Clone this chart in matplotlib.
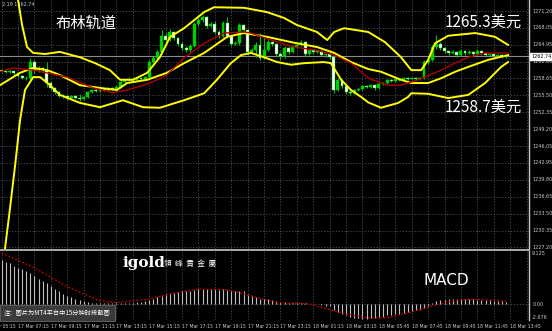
import matplotlib
matplotlib.use("Agg")
import matplotlib.pyplot as plt
import matplotlib.transforms as mtransforms

plt.rcParams['font.family'] = ['Noto Sans CJK SC', 'DejaVu Sans']

# 15 minute candles, bar 0 = 17 Mar 06:15
first_open = 1260.22
closes = [1260.04, 1259.85, 1260.04, 1259.67, 1259.11, 1258.73, 1258.73, 1261.71, 1260.22, 1260.59,
          1260.22, 1257.80, 1256.87, 1256.13, 1255.39, 1255.39, 1255.02, 1255.39, 1255.02, 1254.83,
          1255.20, 1256.13, 1256.50, 1256.32, 1256.69, 1256.50, 1256.87, 1256.69, 1257.06, 1257.99,
          1258.36, 1258.55, 1258.36, 1258.73, 1258.55, 1258.92, 1261.71, 1262.46, 1263.57, 1266.55,
          1265.81, 1267.29, 1266.18, 1265.06, 1264.32, 1263.94, 1264.69, 1268.78, 1269.53, 1270.08,
          1268.41, 1268.78, 1267.29, 1266.55, 1268.97, 1266.55, 1265.06, 1265.25, 1268.60, 1267.67,
          1263.57, 1263.94, 1264.87, 1262.46, 1263.94, 1265.43, 1265.06, 1263.20, 1262.83, 1264.32,
          1263.57, 1264.50, 1264.87, 1265.43, 1263.20, 1263.94, 1263.57, 1263.76, 1263.01, 1263.20,
          1262.64, 1256.50, 1258.36, 1257.25, 1256.13, 1255.95, 1256.50, 1256.69, 1257.25, 1257.06,
          1257.43, 1256.87, 1257.62, 1257.80, 1258.36, 1258.18, 1258.55, 1258.36, 1258.73, 1258.55,
          1258.73, 1258.55, 1258.73, 1261.71, 1262.08, 1264.50, 1265.06, 1264.32, 1263.76, 1263.39,
          1263.57, 1263.01, 1263.76, 1263.39, 1263.57, 1263.20, 1263.76, 1263.39, 1263.01, 1263.20,
          1262.83, 1263.01, 1262.64, 1262.74]
highs = [1260.40, 1260.22, 1260.30, 1260.22, 1259.85, 1259.30, 1259.11, 1262.46, 1262.08, 1260.96,
         1260.78, 1261.71, 1258.18, 1257.06, 1256.32, 1255.76, 1255.57, 1255.57, 1255.57, 1255.76,
         1255.39, 1256.32, 1256.69, 1256.87, 1256.87, 1256.87, 1257.06, 1257.06, 1257.43, 1258.36,
         1258.55, 1258.92, 1258.73, 1258.92, 1258.92, 1259.11, 1262.08, 1262.83, 1263.94, 1267.67,
         1267.10, 1267.85, 1267.48, 1266.36, 1265.43, 1264.69, 1265.06, 1269.15, 1269.90, 1270.46,
         1270.27, 1269.15, 1269.34, 1267.67, 1269.34, 1270.08, 1266.74, 1265.62, 1268.97, 1268.78,
         1267.85, 1264.32, 1265.43, 1267.10, 1266.36, 1265.81, 1265.62, 1265.25, 1263.57, 1264.69,
         1264.50, 1264.87, 1265.25, 1265.81, 1265.62, 1264.13, 1264.13, 1263.94, 1263.94, 1263.39,
         1263.39, 1262.83, 1258.73, 1258.55, 1257.43, 1256.50, 1256.69, 1256.87, 1257.43, 1257.43,
         1257.62, 1257.62, 1257.99, 1257.99, 1258.55, 1258.55, 1258.73, 1258.73, 1258.92, 1258.92,
         1258.92, 1258.92, 1258.92, 1262.08, 1262.46, 1264.87, 1266.74, 1265.43, 1264.50, 1263.94,
         1263.94, 1263.76, 1264.13, 1263.94, 1263.94, 1263.76, 1264.13, 1263.94, 1263.57, 1263.39,
         1263.39, 1263.20, 1263.20, 1262.92]
lows = [1259.85, 1259.67, 1259.67, 1259.30, 1258.92, 1258.55, 1258.36, 1258.36, 1259.67, 1259.85,
        1259.85, 1257.06, 1256.50, 1255.76, 1255.20, 1255.02, 1254.64, 1254.83, 1254.83, 1254.46,
        1254.64, 1255.02, 1255.95, 1256.13, 1256.13, 1256.32, 1256.32, 1256.50, 1256.50, 1256.87,
        1257.80, 1258.18, 1257.99, 1258.18, 1258.36, 1258.36, 1258.73, 1261.52, 1262.27, 1263.39,
        1265.25, 1265.62, 1265.81, 1264.69, 1263.94, 1263.57, 1263.57, 1264.50, 1268.41, 1269.15,
        1268.04, 1268.22, 1266.92, 1266.18, 1266.36, 1266.18, 1264.69, 1264.87, 1264.87, 1267.29,
        1263.01, 1263.20, 1262.64, 1262.08, 1262.27, 1263.76, 1264.69, 1262.83, 1262.08, 1262.46,
        1263.20, 1263.39, 1264.32, 1264.69, 1262.83, 1263.01, 1263.20, 1263.39, 1262.83, 1262.64,
        1262.27, 1255.95, 1256.32, 1256.87, 1255.76, 1255.57, 1255.76, 1256.32, 1256.50, 1256.87,
        1256.87, 1256.50, 1256.69, 1257.43, 1257.62, 1257.99, 1257.99, 1258.18, 1258.18, 1258.36,
        1258.36, 1258.36, 1258.36, 1258.55, 1261.34, 1261.90, 1264.13, 1263.94, 1263.39, 1263.01,
        1263.20, 1262.64, 1262.83, 1263.01, 1263.20, 1262.83, 1263.01, 1263.01, 1262.83, 1262.83,
        1262.64, 1262.64, 1262.46, 1262.46]

# bands as (bar, price)
upper_bar = [2.0, 4.0, 5.0, 6.2, 7.7, 10.6, 14.2, 19.1, 22.8, 26.4, 28.9, 32.0, 35.5, 38.6, 41.1, 44.5,
             49.4, 51.8, 59.1, 64.7, 68.9, 72.0, 76.9, 79.4, 81.1, 83.5, 89.4, 93.5, 97.4, 99.9,
             102.3, 104.0, 105.7, 108.9, 115.5, 120.3, 123.5]
upper_val = [1281.6, 1273.3, 1268.6, 1264.5, 1263.4, 1263.2, 1263.6, 1262.6, 1261.5, 1260.2, 1258.4,
             1258.4, 1259.7, 1262.6, 1266.4, 1268.0, 1271.0, 1271.9, 1271.8, 1271.0, 1269.9, 1268.6,
             1267.3, 1265.8, 1267.3, 1268.0, 1267.3, 1265.4, 1262.6, 1260.2, 1260.2, 1262.1, 1265.2,
             1266.6, 1267.1, 1266.4, 1264.9]
inner_bar = [-0.4, 4.5, 7.7, 11.1, 14.2, 19.1, 24.0, 28.1, 30.6, 35.5, 40.3, 44.5, 49.4, 55.0, 59.1,
             64.7, 71.3, 76.9, 81.1, 85.2, 89.4, 92.5, 97.4, 99.9, 104.0, 107.2, 110.6, 113.8, 118.6,
             123.5]
inner_val = [1257.4, 1259.7, 1260.6, 1260.2, 1259.3, 1257.4, 1256.9, 1256.5, 1257.8, 1258.4, 1259.7,
             1261.5, 1263.4, 1266.4, 1267.1, 1266.4, 1265.3, 1264.5, 1263.4, 1261.7, 1260.4, 1259.9,
             1258.4, 1257.8, 1257.8, 1258.7, 1259.9, 1260.8, 1262.1, 1263.0]
lower_bar = [0.8, 2.0, 3.3, 4.5, 5.7, 7.7, 9.4, 11.8, 14.2, 19.1, 24.0, 29.6, 34.5, 38.6, 44.5, 49.4,
             52.5, 55.9, 58.4, 60.8, 64.0, 67.2, 70.6, 73.8, 78.6, 80.3, 82.8, 85.2, 87.7, 89.4, 92.5,
             96.7, 99.1, 99.9, 104.0, 108.9, 113.8, 117.9, 121.8, 123.5]
lower_val = [1226.8, 1234.2, 1242.5, 1250.9, 1256.5, 1258.9, 1258.9, 1257.4, 1255.6, 1254.1, 1253.3,
             1254.6, 1253.3, 1253.2, 1254.6, 1255.9, 1258.4, 1261.5, 1263.0, 1263.4, 1262.6, 1261.7,
             1261.2, 1261.5, 1261.7, 1261.5, 1258.4, 1256.5, 1255.2, 1254.2, 1253.2, 1254.1, 1255.2,
             1255.9, 1255.8, 1255.0, 1255.6, 1257.8, 1260.8, 1261.7]
ma_bar = [-0.4, 2.8, 7.7, 16.0, 22.3, 27.2, 30.6, 36.2, 40.3, 44.5, 49.4, 54.2, 59.1, 60.8, 65.7, 71.3,
          76.9, 81.1, 85.2, 89.4, 94.2, 97.4, 101.6, 105.7, 110.6, 113.8, 117.9, 123.5]
ma_val = [1259.9, 1260.6, 1260.2, 1258.9, 1256.9, 1256.0, 1256.5, 1257.8, 1259.3, 1262.5, 1265.2,
          1267.1, 1267.3, 1267.1, 1265.8, 1264.5, 1263.9, 1263.0, 1261.5, 1258.7, 1257.4, 1257.4,
          1258.4, 1259.7, 1261.5, 1262.6, 1263.4, 1263.4]

macd_hist = [7.6, 7.3, 7.0, 6.6, 6.3, 6.0, 5.7, 5.4, 4.9, 4.4, 4.0, 3.6, 3.1, 2.6, 2.2, 1.8, 1.5, 1.2,
             0.9, 0.7, 0.5, 0.4, 0.3, 0.3, 0.2, 0.2, 0.2, 0.2, 0.2, 0.2, 0.3, 0.3, 0.3, 0.4, 0.4, 0.5,
             0.7, 0.9, 1.2, 1.5, 1.7, 1.9, 2.0, 2.1, 2.2, 2.2, 2.3, 2.5, 2.6, 2.7, 2.7, 2.7, 2.6, 2.5,
             2.6, 2.5, 2.3, 2.2, 2.3, 2.2, 1.8, 1.5, 1.3, 1.0, 0.9, 0.9, 0.8, 0.6, 0.4, 0.4, 0.3, 0.3,
             0.3, 0.3, 0.2, 0.1, 0.1, 0.0, -0.1, -0.2, -0.3, -1.0, -1.3, -1.6, -1.9, -2.1, -2.3, -2.4,
             -2.5, -2.5, -2.4, -2.3, -2.2, -2.1, -1.9, -1.8, -1.7, -1.6, -1.5, -1.3, -1.2, -1.0, -0.9,
             -0.6, -0.2, 0.3, 0.6, 0.7, 0.8, 0.9, 0.9, 0.9, 0.9, 0.9, 0.9, 0.9, 0.8, 0.8, 0.7, 0.7,
             0.6, 0.5, 0.5, 0.4]
signal_bar = [0, 7.7, 16, 24, 28, 36, 42, 48, 55, 60.6, 67, 75, 83, 89, 94, 99, 105, 110, 115, 120, 123]
signal_val = [8.8, 6.35, 3.0, 0.6, 0.3, 0.9, 1.9, 2.6, 2.5, 1.5, 0.3, 0.1, -1.5, -2.3, -2.3, -1.5, -0.3,
              0.6, 0.9, 0.7, 0.5]

price_ticks = [1271.20, 1268.05, 1264.95, 1261.80, 1258.65, 1255.50, 1252.35, 1249.20, 1246.05,
               1242.95, 1239.80, 1236.65, 1233.50, 1230.35, 1227.20]
time_bars = [-4, 4, 12, 20, 28, 36, 44, 52, 60, 68, 76, 84, 92, 100, 108, 116, 124]
time_labels = ["17 Mar 05:15", "17 Mar 07:15", "17 Mar 09:15", "17 Mar 11:15", "17 Mar 13:15",
               "17 Mar 15:15", "17 Mar 17:15", "17 Mar 19:15", "17 Mar 21:15", "17 Mar 23:15",
               "18 Mar 01:15", "18 Mar 03:15", "18 Mar 05:45", "18 Mar 07:45", "18 Mar 09:45",
               "18 Mar 11:45", "18 Mar 13:45"]
last_price = 1262.74

W, H = 552, 331
fig = plt.figure(figsize=(W / 100, H / 100), dpi=100, facecolor='black')
ax = fig.add_axes([0, 1 - 249 / H, 529 / W, 249 / H], facecolor='black')
ax2 = fig.add_axes([0, 1 - 320 / H, 529 / W, 69 / H], facecolor='black')

xmin, xmax = -0.39, 128.6
grid_kw = dict(color='#4a5360', lw=0.6, ls=(0, (1.5, 2)))
axis_font = dict(family='Liberation Sans Narrow', color='#c8c8c8', fontsize=3.5)

for a in (ax, ax2):
    a.set_xlim(xmin, xmax)
    for b in range(0, 129, 4):
        a.axvline(b, zorder=0, **grid_kw)
    a.set_xticks([])
    a.set_yticks([])
    for s in a.spines.values():
        s.set_visible(False)
    a.spines['right'].set_visible(True)
    a.spines['right'].set_color('#c8c8c8')
    a.spines['right'].set_linewidth(1.0)

# main panel
ax.set_ylim(1226.92, 1273.25)
for p in price_ticks:
    ax.axhline(p, zorder=0, **grid_kw)
ax.axhline(last_price, color='#8a8a8a', lw=0.8, zorder=1)

opens = [first_open] + closes[:-1]
for i, (o, h, l, c) in enumerate(zip(opens, highs, lows, closes)):
    ax.vlines(i, l, h, color='#00c800', lw=0.8, zorder=3)
    up = c >= o
    ax.bar(i, max(abs(c - o), 0.06), bottom=min(o, c), width=0.7,
           color='#00d000' if up else 'white', edgecolor='#00c800', lw=0.3, zorder=4)

ax.plot(upper_bar, upper_val, color='#ffff00', lw=1.4, zorder=5)
ax.plot(inner_bar, inner_val, color='#ffff00', lw=1.4, zorder=5)
ax.plot(lower_bar, lower_val, color='#ffff00', lw=1.4, zorder=5)
ax.plot(ma_bar, ma_val, color='#b00000', lw=1.0, zorder=5)

ty = mtransforms.blended_transform_factory(ax.transAxes, ax.transData)
for p in price_ticks:
    ax.text(1.006, p, f"{p:.2f}", transform=ty, va='center', ha='left', clip_on=False, **axis_font)
ax.text(1.004, last_price, f"{last_price:.2f}", transform=ty, va='center', ha='left', clip_on=False,
        family='Liberation Sans Narrow', color='black', fontsize=3.5,
        bbox=dict(boxstyle='square,pad=0.15', fc='white', ec='white'))

ax.text(0.003, 0.992, "2.19 1262.74", transform=ax.transAxes, va='top', ha='left', **axis_font)
ax.text(0.105, 0.905, "布林轨道", transform=ax.transAxes, color='white', fontsize=11, va='center')
ax.text(0.84, 0.912, "1265.3美元", transform=ax.transAxes, color='white', fontsize=11, va='center')
ax.text(0.84, 0.57, "1258.7美元", transform=ax.transAxes, color='white', fontsize=11, va='center')

# MACD panel
ax2.set_ylim(-2.676, 9.125)
ax2.axhline(0, zorder=0, **grid_kw)
ax2.vlines(range(len(macd_hist)), 0, macd_hist, color='#c0c0c0', lw=0.8, zorder=3)
ax2.plot(signal_bar, signal_val, color='#d00000', lw=0.9, ls=(0, (1.5, 1.5)), zorder=4)

ty2 = mtransforms.blended_transform_factory(ax2.transAxes, ax2.transData)
for v, lab in [(9.125, "9.125"), (0.0, "0.00"), (-2.676, "-2.676")]:
    ax2.text(1.006, v, lab, transform=ty2,
             va='top' if v > 5 else ('bottom' if v < -2 else 'center'), ha='left', clip_on=False,
             **axis_font)

ax2.text(0.232, 0.83, "igold", transform=ax2.transAxes, color='white', fontsize=11,
         family='DejaVu Serif', weight='bold', va='center', ha='left')
ax2.text(0.31, 0.81, "領  峰  貴  金  屬", transform=ax2.transAxes, color='white', fontsize=5.5,
         family=['Noto Sans CJK TC', 'DejaVu Sans'], va='center', ha='left')
ax2.text(0.80, 0.57, "MACD", transform=ax2.transAxes, color='white', fontsize=11,
         family='DejaVu Sans', va='center', ha='left')
ax2.text(0.008, 0.1, "注：图片为MT4平台中15分钟时段截图", transform=ax2.transAxes, color='white',
         fontsize=4.5, va='center', ha='left',
         bbox=dict(boxstyle='square,pad=0.6', fc='#3a3a3a', ec='#777777', lw=0.5))

# separator and time axis
fig.add_artist(plt.Line2D([0, 529 / W], [1 - 249.5 / H] * 2, color='#c8c8c8', lw=1.2))
tx = mtransforms.blended_transform_factory(ax2.transData, fig.transFigure)
for b, lab in zip(time_bars, time_labels):
    ax2.text(b, 1 - 326 / H, lab, transform=tx, va='center', ha='left', clip_on=False,
             family='Liberation Sans Narrow', color='#c8c8c8', fontsize=3.3)

fig.savefig('out.png', dpi=100, facecolor='black')
